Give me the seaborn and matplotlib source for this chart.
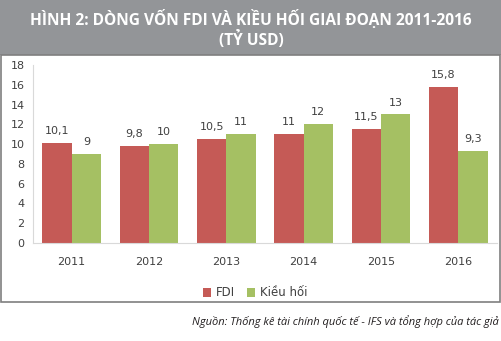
import matplotlib
matplotlib.use("Agg")
import matplotlib.pyplot as plt
import seaborn as sns
import pandas as pd
from matplotlib.patches import Rectangle

years = ["2011", "2012", "2013", "2014", "2015", "2016"]
fdi = [10.1, 9.8, 10.5, 11, 11.5, 15.8]
kieuhoi = [9, 10, 11, 12, 13, 9.3]
series = ["FDI", "Kiều hối"]
yticks = [0, 2, 4, 6, 8, 10, 12, 14, 16, 18]

df = pd.DataFrame({
    "year": years * 2,
    "value": fdi + kieuhoi,
    "series": [series[0]] * len(years) + [series[1]] * len(years),
})

sns.set_theme(style="white")
plt.rcParams['font.family'] = ['DejaVu Sans']

W, H = 502, 341
fig = plt.figure(figsize=(W / 100, H / 100), dpi=100)
fig.patch.set_facecolor("white")

# title band
fig.patches.append(Rectangle((0, 1 - 55 / H), 1, 55 / H, transform=fig.transFigure,
                             facecolor="#939598", edgecolor="none", zorder=0))
fig.text(0.5, 1 - 19 / H, "HÌNH 2: DÒNG VỐN FDI VÀ KIỀU HỐI GIAI ĐOẠN 2011-2016",
         ha="center", va="center", color="white", fontsize=11.2, fontweight="bold",
         family="Open Sans")
fig.text(0.5, 1 - 40 / H, "(TỶ USD)", ha="center", va="center", color="white",
         fontsize=11.2, fontweight="bold", family="Open Sans")
# chart frame
fig.patches.append(Rectangle((1.5 / W, 1 - 302 / H), (W - 3) / W, (302 - 55) / H,
                             transform=fig.transFigure, facecolor="none",
                             edgecolor="#7f7f7f", linewidth=1.2, zorder=1))

ax = fig.add_axes([33 / W, 1 - 243 / H, (497 - 33) / W, (243 - 65) / H])
palette = {"FDI": "#C55A56", "Kiều hối": "#A5C063"}
sns.barplot(data=df, x="year", y="value", hue="series", palette=palette,
            width=0.76, saturation=1, ax=ax, legend=True, edgecolor="none")
ax.set_ylim(0, 18)
ax.set_yticks(yticks)
ax.set_yticklabels([str(t) for t in yticks])
ax.set_xlabel("")
ax.set_ylabel("")
for s in ["top", "right"]:
    ax.spines[s].set_visible(False)
for s in ["left", "bottom"]:
    ax.spines[s].set_color("#d9d9d9")
    ax.spines[s].set_linewidth(0.8)
ax.tick_params(axis="both", length=0, labelsize=8, colors="#404040", pad=6)
ax.tick_params(axis="x", pad=10)
ax.set_facecolor("none")

for cont in ax.containers:
    labels = [f"{v:g}".replace(".", ",") for v in cont.datavalues]
    ax.bar_label(cont, labels=labels, padding=5, fontsize=8, color="#404040")

leg = ax.legend(loc="center", bbox_to_anchor=(255 / W, 1 - 293 / H),
                bbox_transform=fig.transFigure, ncol=2, frameon=False,
                fontsize=8.5, handlelength=0.7, handleheight=0.7,
                handletextpad=0.4, columnspacing=1.0)
for t in leg.get_texts():
    t.set_color("#404040")

fig.text(499 / W, 1 - 322 / H,
         "Nguồn: Thống kê tài chính quốc tế - IFS và tổng hợp của tác giả",
         ha="right", va="center", fontsize=8, style="italic", color="#231f20",
         family="Open Sans")

fig.savefig("out.png", dpi=100)
